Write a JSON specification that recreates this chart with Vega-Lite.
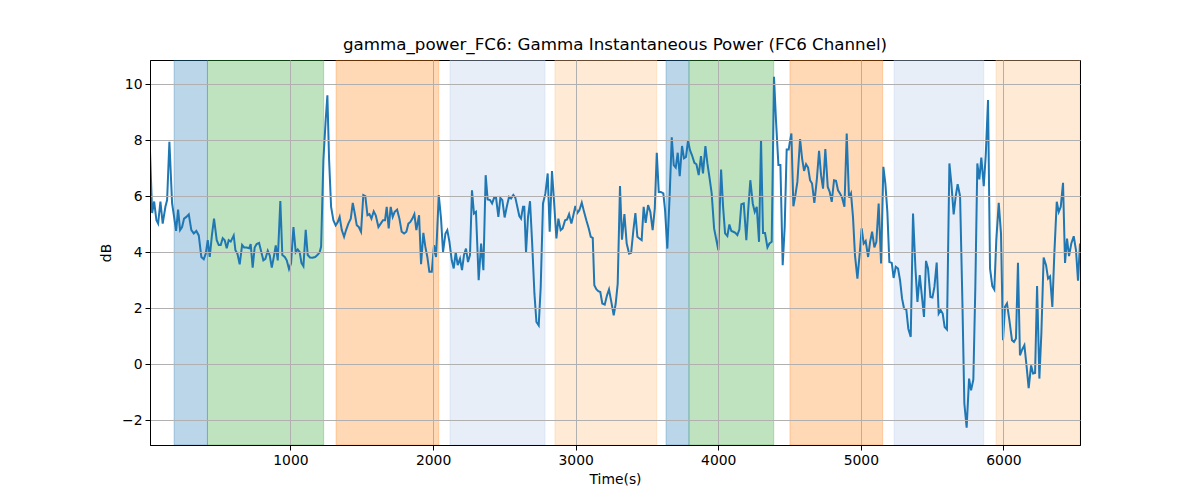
{
  "$schema": "https://vega.github.io/schema/vega-lite/v6.json",
  "width": 930,
  "height": 385,
  "autosize": {"type": "none"},
  "padding": {"left": 150, "top": 60, "right": 120, "bottom": 55},
  "background": "#ffffff",
  "title": {
    "text": "gamma_power_FC6: Gamma Instantaneous Power (FC6 Channel)",
    "font": "DejaVu Sans",
    "fontSize": 16.7,
    "fontWeight": "normal",
    "color": "#000000",
    "anchor": "middle",
    "offset": 6
  },
  "config": {
    "font": "DejaVu Sans",
    "view": {"stroke": "#000000", "strokeWidth": 1},
    "axis": {
      "labelFont": "DejaVu Sans",
      "titleFont": "DejaVu Sans",
      "labelFontSize": 13.9,
      "titleFontSize": 13.9,
      "titleFontWeight": "normal",
      "labelColor": "#000000",
      "titleColor": "#000000",
      "domainColor": "#000000",
      "tickColor": "#000000",
      "tickSize": 5,
      "tickWidth": 1,
      "gridColor": "#b0b0b0",
      "gridWidth": 1,
      "labelPadding": 3
    }
  },
  "datasets": {
    "bands": [
      {"start": 184, "end": 418, "phase": "A"},
      {"start": 418, "end": 1233, "phase": "B"},
      {"start": 1320, "end": 2040, "phase": "C"},
      {"start": 2119, "end": 2785, "phase": "D"},
      {"start": 2855, "end": 3569, "phase": "E"},
      {"start": 3634, "end": 3795, "phase": "A"},
      {"start": 3795, "end": 4389, "phase": "B"},
      {"start": 4503, "end": 5153, "phase": "C"},
      {"start": 5233, "end": 5862, "phase": "D"},
      {"start": 5948, "end": 6537, "phase": "E"}
    ],
    "power": [
      {"t": 15, "db": 7.6}, {"t": 30, "db": 5.4}, {"t": 44, "db": 5.81}, {"t": 60, "db": 5.14},
      {"t": 72, "db": 5.02}, {"t": 88, "db": 5.81}, {"t": 104, "db": 5.02}, {"t": 123, "db": 5.62},
      {"t": 135, "db": 5.86}, {"t": 151, "db": 7.94}, {"t": 170, "db": 5.74}, {"t": 184, "db": 5.26},
      {"t": 198, "db": 4.76}, {"t": 212, "db": 5.52}, {"t": 226, "db": 4.79}, {"t": 240, "db": 4.9},
      {"t": 254, "db": 5.2}, {"t": 270, "db": 5.26}, {"t": 287, "db": 5.35}, {"t": 305, "db": 4.79},
      {"t": 322, "db": 4.67}, {"t": 340, "db": 4.76}, {"t": 357, "db": 4.6}, {"t": 375, "db": 3.83},
      {"t": 392, "db": 3.75}, {"t": 406, "db": 3.95}, {"t": 420, "db": 4.43}, {"t": 434, "db": 3.83},
      {"t": 449, "db": 4.6}, {"t": 464, "db": 5.2}, {"t": 483, "db": 4.43}, {"t": 497, "db": 4.26},
      {"t": 511, "db": 4.26}, {"t": 525, "db": 4.5}, {"t": 539, "db": 4.43}, {"t": 553, "db": 4.14},
      {"t": 567, "db": 4.43}, {"t": 581, "db": 4.38}, {"t": 602, "db": 4.6}, {"t": 614, "db": 4.07},
      {"t": 628, "db": 3.95}, {"t": 644, "db": 3.57}, {"t": 661, "db": 4.26}, {"t": 675, "db": 4.17},
      {"t": 693, "db": 4.17}, {"t": 710, "db": 4.14}, {"t": 721, "db": 4.29}, {"t": 735, "db": 3.45},
      {"t": 749, "db": 4.17}, {"t": 763, "db": 4.29}, {"t": 780, "db": 4.33}, {"t": 796, "db": 4.0},
      {"t": 810, "db": 3.71}, {"t": 824, "db": 3.76}, {"t": 841, "db": 4.05}, {"t": 855, "db": 3.88},
      {"t": 869, "db": 3.45}, {"t": 885, "db": 3.88}, {"t": 897, "db": 4.24}, {"t": 911, "db": 3.71},
      {"t": 929, "db": 5.83}, {"t": 943, "db": 3.9}, {"t": 960, "db": 3.83}, {"t": 974, "db": 3.71},
      {"t": 990, "db": 3.4}, {"t": 1004, "db": 3.6}, {"t": 1021, "db": 4.9}, {"t": 1037, "db": 4.0},
      {"t": 1051, "db": 4.1}, {"t": 1065, "db": 4.0}, {"t": 1077, "db": 3.62}, {"t": 1091, "db": 3.5},
      {"t": 1107, "db": 4.8}, {"t": 1121, "db": 3.9}, {"t": 1137, "db": 3.81}, {"t": 1154, "db": 3.8},
      {"t": 1173, "db": 3.83}, {"t": 1189, "db": 3.9}, {"t": 1205, "db": 4.0}, {"t": 1215, "db": 4.2},
      {"t": 1231, "db": 7.29}, {"t": 1247, "db": 8.71}, {"t": 1259, "db": 9.6}, {"t": 1271, "db": 7.29},
      {"t": 1285, "db": 5.62}, {"t": 1301, "db": 5.14}, {"t": 1317, "db": 4.96}, {"t": 1332, "db": 5.08},
      {"t": 1345, "db": 5.26}, {"t": 1360, "db": 4.79}, {"t": 1376, "db": 4.55}, {"t": 1390, "db": 4.79},
      {"t": 1406, "db": 5.02}, {"t": 1423, "db": 5.2}, {"t": 1437, "db": 5.76}, {"t": 1451, "db": 5.38},
      {"t": 1465, "db": 4.96}, {"t": 1479, "db": 4.9}, {"t": 1495, "db": 4.73}, {"t": 1511, "db": 6.04},
      {"t": 1525, "db": 6.0}, {"t": 1540, "db": 5.32}, {"t": 1554, "db": 5.36}, {"t": 1568, "db": 5.2},
      {"t": 1584, "db": 5.46}, {"t": 1598, "db": 5.32}, {"t": 1617, "db": 4.9}, {"t": 1633, "db": 5.02},
      {"t": 1649, "db": 5.14}, {"t": 1663, "db": 5.14}, {"t": 1675, "db": 5.62}, {"t": 1689, "db": 4.85},
      {"t": 1703, "db": 5.62}, {"t": 1717, "db": 5.26}, {"t": 1731, "db": 5.44}, {"t": 1748, "db": 5.52},
      {"t": 1764, "db": 5.2}, {"t": 1780, "db": 4.73}, {"t": 1797, "db": 4.67}, {"t": 1813, "db": 4.73},
      {"t": 1827, "db": 5.02}, {"t": 1841, "db": 5.08}, {"t": 1855, "db": 5.2}, {"t": 1869, "db": 5.36},
      {"t": 1883, "db": 4.79}, {"t": 1902, "db": 5.32}, {"t": 1916, "db": 3.57}, {"t": 1932, "db": 4.69},
      {"t": 1946, "db": 4.19}, {"t": 1960, "db": 3.83}, {"t": 1974, "db": 3.3}, {"t": 1991, "db": 3.3},
      {"t": 2007, "db": 4.25}, {"t": 2021, "db": 3.83}, {"t": 2040, "db": 6.04}, {"t": 2056, "db": 5.2},
      {"t": 2070, "db": 4.0}, {"t": 2087, "db": 4.67}, {"t": 2100, "db": 4.79}, {"t": 2115, "db": 4.37},
      {"t": 2131, "db": 3.71}, {"t": 2145, "db": 3.42}, {"t": 2159, "db": 4.0}, {"t": 2173, "db": 3.54},
      {"t": 2189, "db": 3.77}, {"t": 2203, "db": 3.36}, {"t": 2217, "db": 3.9}, {"t": 2231, "db": 4.13},
      {"t": 2245, "db": 3.65}, {"t": 2259, "db": 3.9}, {"t": 2273, "db": 6.21}, {"t": 2287, "db": 5.38},
      {"t": 2301, "db": 5.44}, {"t": 2320, "db": 3.0}, {"t": 2337, "db": 4.31}, {"t": 2353, "db": 3.36},
      {"t": 2369, "db": 6.75}, {"t": 2383, "db": 5.88}, {"t": 2400, "db": 5.86}, {"t": 2414, "db": 5.74},
      {"t": 2428, "db": 5.94}, {"t": 2442, "db": 5.94}, {"t": 2458, "db": 5.26}, {"t": 2472, "db": 5.94},
      {"t": 2486, "db": 5.86}, {"t": 2502, "db": 5.24}, {"t": 2517, "db": 5.62}, {"t": 2533, "db": 5.98},
      {"t": 2547, "db": 5.92}, {"t": 2563, "db": 6.04}, {"t": 2577, "db": 5.95}, {"t": 2591, "db": 5.62},
      {"t": 2605, "db": 5.29}, {"t": 2617, "db": 5.2}, {"t": 2631, "db": 5.62}, {"t": 2640, "db": 5.62},
      {"t": 2652, "db": 3.99}, {"t": 2666, "db": 5.26}, {"t": 2680, "db": 5.82}, {"t": 2694, "db": 4.43},
      {"t": 2711, "db": 2.52}, {"t": 2725, "db": 1.51}, {"t": 2741, "db": 1.39}, {"t": 2755, "db": 2.76},
      {"t": 2771, "db": 5.74}, {"t": 2788, "db": 6.1}, {"t": 2804, "db": 6.81}, {"t": 2818, "db": 4.73},
      {"t": 2834, "db": 6.9}, {"t": 2848, "db": 5.86}, {"t": 2865, "db": 4.49}, {"t": 2879, "db": 5.2},
      {"t": 2895, "db": 4.79}, {"t": 2909, "db": 4.85}, {"t": 2926, "db": 5.14}, {"t": 2940, "db": 5.17},
      {"t": 2954, "db": 5.36}, {"t": 2970, "db": 5.02}, {"t": 2984, "db": 5.32}, {"t": 2998, "db": 5.65},
      {"t": 3012, "db": 5.4}, {"t": 3026, "db": 5.5}, {"t": 3043, "db": 5.77}, {"t": 3059, "db": 5.44},
      {"t": 3075, "db": 5.14}, {"t": 3092, "db": 4.85}, {"t": 3106, "db": 4.55}, {"t": 3120, "db": 4.51},
      {"t": 3131, "db": 2.82}, {"t": 3145, "db": 2.68}, {"t": 3159, "db": 2.61}, {"t": 3173, "db": 2.58},
      {"t": 3187, "db": 2.17}, {"t": 3204, "db": 2.13}, {"t": 3220, "db": 2.46}, {"t": 3234, "db": 2.67},
      {"t": 3248, "db": 2.29}, {"t": 3267, "db": 1.75}, {"t": 3281, "db": 2.17}, {"t": 3295, "db": 2.88},
      {"t": 3311, "db": 6.36}, {"t": 3325, "db": 4.45}, {"t": 3342, "db": 5.36}, {"t": 3358, "db": 4.31},
      {"t": 3375, "db": 3.95}, {"t": 3389, "db": 3.98}, {"t": 3405, "db": 4.79}, {"t": 3419, "db": 5.4},
      {"t": 3433, "db": 4.55}, {"t": 3447, "db": 4.49}, {"t": 3463, "db": 4.43}, {"t": 3477, "db": 5.62},
      {"t": 3491, "db": 5.05}, {"t": 3508, "db": 5.68}, {"t": 3524, "db": 5.44}, {"t": 3540, "db": 4.79},
      {"t": 3555, "db": 5.56}, {"t": 3569, "db": 7.55}, {"t": 3583, "db": 6.15}, {"t": 3597, "db": 6.15},
      {"t": 3615, "db": 6.1}, {"t": 3627, "db": 5.5}, {"t": 3643, "db": 4.13}, {"t": 3660, "db": 6.1},
      {"t": 3674, "db": 8.1}, {"t": 3688, "db": 7.11}, {"t": 3702, "db": 7.02}, {"t": 3716, "db": 7.55},
      {"t": 3730, "db": 6.71}, {"t": 3746, "db": 7.79}, {"t": 3760, "db": 7.35}, {"t": 3774, "db": 7.4},
      {"t": 3788, "db": 7.98}, {"t": 3802, "db": 7.64}, {"t": 3816, "db": 7.46}, {"t": 3833, "db": 7.19},
      {"t": 3847, "db": 7.14}, {"t": 3863, "db": 6.75}, {"t": 3879, "db": 7.43}, {"t": 3893, "db": 6.81},
      {"t": 3910, "db": 7.79}, {"t": 3924, "db": 7.17}, {"t": 3938, "db": 6.69}, {"t": 3954, "db": 6.1},
      {"t": 3971, "db": 4.85}, {"t": 3987, "db": 4.43}, {"t": 4001, "db": 4.07}, {"t": 4020, "db": 6.95},
      {"t": 4034, "db": 5.62}, {"t": 4048, "db": 4.67}, {"t": 4064, "db": 4.58}, {"t": 4078, "db": 4.99},
      {"t": 4092, "db": 4.76}, {"t": 4106, "db": 4.73}, {"t": 4120, "db": 4.69}, {"t": 4134, "db": 4.61},
      {"t": 4148, "db": 4.81}, {"t": 4162, "db": 5.71}, {"t": 4179, "db": 5.74}, {"t": 4197, "db": 4.43},
      {"t": 4211, "db": 5.56}, {"t": 4225, "db": 6.57}, {"t": 4242, "db": 5.74}, {"t": 4256, "db": 5.44},
      {"t": 4270, "db": 5.62}, {"t": 4286, "db": 4.37}, {"t": 4300, "db": 8.0}, {"t": 4314, "db": 4.69},
      {"t": 4328, "db": 4.69}, {"t": 4345, "db": 4.17}, {"t": 4359, "db": 4.31}, {"t": 4375, "db": 4.37},
      {"t": 4391, "db": 10.26}, {"t": 4405, "db": 8.71}, {"t": 4422, "db": 7.11}, {"t": 4436, "db": 7.11},
      {"t": 4452, "db": 3.54}, {"t": 4466, "db": 4.9}, {"t": 4480, "db": 7.67}, {"t": 4494, "db": 7.67},
      {"t": 4501, "db": 7.9}, {"t": 4513, "db": 8.24}, {"t": 4527, "db": 5.64}, {"t": 4541, "db": 6.04},
      {"t": 4555, "db": 6.51}, {"t": 4574, "db": 8.04}, {"t": 4588, "db": 7.35}, {"t": 4602, "db": 6.9},
      {"t": 4616, "db": 7.14}, {"t": 4630, "db": 7.02}, {"t": 4644, "db": 6.57}, {"t": 4658, "db": 6.45},
      {"t": 4674, "db": 5.76}, {"t": 4691, "db": 6.57}, {"t": 4707, "db": 7.62}, {"t": 4721, "db": 6.75},
      {"t": 4735, "db": 6.27}, {"t": 4751, "db": 7.68}, {"t": 4768, "db": 6.33}, {"t": 4782, "db": 6.15},
      {"t": 4796, "db": 5.8}, {"t": 4812, "db": 6.57}, {"t": 4826, "db": 6.55}, {"t": 4840, "db": 6.21},
      {"t": 4854, "db": 6.1}, {"t": 4868, "db": 5.95}, {"t": 4885, "db": 5.62}, {"t": 4901, "db": 8.24},
      {"t": 4917, "db": 5.95}, {"t": 4931, "db": 6.1}, {"t": 4945, "db": 5.26}, {"t": 4959, "db": 3.89},
      {"t": 4976, "db": 3.06}, {"t": 4992, "db": 3.95}, {"t": 5006, "db": 4.85}, {"t": 5020, "db": 4.31},
      {"t": 5034, "db": 4.4}, {"t": 5051, "db": 3.83}, {"t": 5065, "db": 4.37}, {"t": 5079, "db": 4.73},
      {"t": 5095, "db": 4.17}, {"t": 5109, "db": 4.37}, {"t": 5125, "db": 5.74}, {"t": 5142, "db": 3.6},
      {"t": 5158, "db": 7.05}, {"t": 5172, "db": 6.45}, {"t": 5186, "db": 5.44}, {"t": 5200, "db": 3.65},
      {"t": 5217, "db": 3.62}, {"t": 5230, "db": 3.08}, {"t": 5245, "db": 3.48}, {"t": 5261, "db": 3.42},
      {"t": 5275, "db": 3.0}, {"t": 5289, "db": 2.35}, {"t": 5303, "db": 1.99}, {"t": 5319, "db": 1.95},
      {"t": 5333, "db": 1.27}, {"t": 5350, "db": 0.98}, {"t": 5366, "db": 5.38}, {"t": 5383, "db": 3.42},
      {"t": 5397, "db": 2.23}, {"t": 5413, "db": 3.18}, {"t": 5429, "db": 2.4}, {"t": 5443, "db": 1.69},
      {"t": 5457, "db": 3.69}, {"t": 5471, "db": 3.42}, {"t": 5488, "db": 2.4}, {"t": 5502, "db": 2.38},
      {"t": 5516, "db": 2.76}, {"t": 5532, "db": 3.63}, {"t": 5546, "db": 1.81}, {"t": 5560, "db": 1.93},
      {"t": 5574, "db": 1.81}, {"t": 5588, "db": 1.33}, {"t": 5604, "db": 1.24}, {"t": 5621, "db": 7.17},
      {"t": 5635, "db": 6.45}, {"t": 5651, "db": 5.35}, {"t": 5665, "db": 5.98}, {"t": 5679, "db": 6.43},
      {"t": 5696, "db": 6.0}, {"t": 5712, "db": 2.29}, {"t": 5726, "db": -1.4}, {"t": 5742, "db": -2.26},
      {"t": 5759, "db": -0.51}, {"t": 5773, "db": -0.93}, {"t": 5789, "db": -0.55}, {"t": 5803, "db": 2.76},
      {"t": 5817, "db": 7.17}, {"t": 5831, "db": 6.6}, {"t": 5845, "db": 7.38}, {"t": 5862, "db": 6.36},
      {"t": 5876, "db": 7.46}, {"t": 5892, "db": 9.43}, {"t": 5906, "db": 3.42}, {"t": 5922, "db": 2.79},
      {"t": 5936, "db": 2.67}, {"t": 5950, "db": 4.43}, {"t": 5967, "db": 5.76}, {"t": 5983, "db": 4.67},
      {"t": 5997, "db": 0.86}, {"t": 6011, "db": 2.05}, {"t": 6025, "db": 2.17}, {"t": 6042, "db": 1.57},
      {"t": 6060, "db": 0.86}, {"t": 6074, "db": 0.8}, {"t": 6088, "db": 0.92}, {"t": 6102, "db": 3.62},
      {"t": 6116, "db": 0.32}, {"t": 6131, "db": 0.52}, {"t": 6147, "db": 0.68}, {"t": 6163, "db": -0.1},
      {"t": 6177, "db": -0.85}, {"t": 6194, "db": -0.04}, {"t": 6208, "db": -0.33}, {"t": 6222, "db": -0.31},
      {"t": 6236, "db": 2.79}, {"t": 6252, "db": -0.51}, {"t": 6266, "db": 1.1}, {"t": 6282, "db": 3.81},
      {"t": 6299, "db": 3.54}, {"t": 6313, "db": 3.06}, {"t": 6327, "db": 3.14}, {"t": 6343, "db": 2.05},
      {"t": 6357, "db": 3.95}, {"t": 6374, "db": 5.8}, {"t": 6388, "db": 5.44}, {"t": 6402, "db": 5.62},
      {"t": 6418, "db": 6.48}, {"t": 6432, "db": 3.62}, {"t": 6446, "db": 4.49}, {"t": 6460, "db": 3.86},
      {"t": 6476, "db": 4.31}, {"t": 6493, "db": 4.57}, {"t": 6509, "db": 4.07}, {"t": 6523, "db": 2.98},
      {"t": 6537, "db": 4.31}
    ]
  },
  "layer": [
    {
      "data": {"name": "bands"},
      "mark": {"type": "rect", "fillOpacity": 0.3, "strokeOpacity": 0.3, "strokeWidth": 1, "clip": true},
      "encoding": {
        "x": {
          "field": "start",
          "type": "quantitative",
          "scale": {"domain": [15, 6537], "nice": false, "zero": false},
          "axis": {"title": "Time(s)", "values": [1000, 2000, 3000, 4000, 5000, 6000], "format": "d", "grid": true, "zindex": 1, "titlePadding": 6}
        },
        "x2": {"field": "end"},
        "fill": {
          "field": "phase",
          "type": "nominal",
          "scale": {"domain": ["A", "B", "C", "D", "E"], "range": ["#1f77b4", "#2ca02c", "#ff7f0e", "#aec7e8", "#ffbb78"]},
          "legend": null
        },
        "stroke": {
          "field": "phase",
          "type": "nominal",
          "scale": {"domain": ["A", "B", "C", "D", "E"], "range": ["#1f77b4", "#2ca02c", "#ff7f0e", "#aec7e8", "#ffbb78"]},
          "legend": null
        }
      }
    },
    {
      "data": {"name": "power"},
      "mark": {"type": "line", "color": "#1f77b4", "strokeWidth": 2, "clip": true},
      "encoding": {
        "x": {
          "field": "t",
          "type": "quantitative",
          "scale": {"domain": [15, 6537], "nice": false, "zero": false},
          "axis": {"title": "Time(s)", "values": [1000, 2000, 3000, 4000, 5000, 6000], "format": "d", "grid": true, "zindex": 1, "titlePadding": 6}
        },
        "y": {
          "field": "db",
          "type": "quantitative",
          "scale": {"domain": [-2.88, 10.86], "nice": false, "zero": false},
          "axis": {"title": "dB", "values": [-2, 0, 2, 4, 6, 8, 10], "grid": true, "zindex": 1, "titlePadding": 8}
        }
      }
    }
  ]
}
